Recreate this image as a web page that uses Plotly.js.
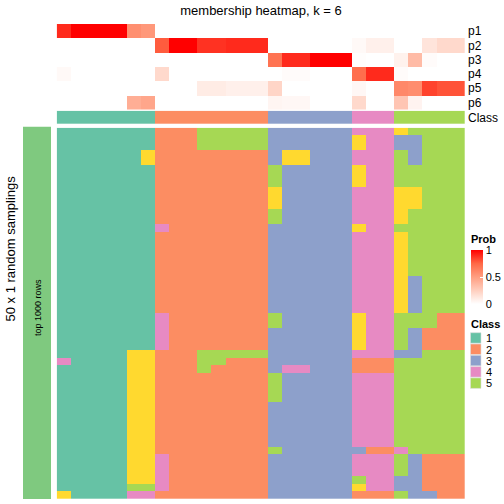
<!DOCTYPE html>
<html><head><meta charset="utf-8">
<script src="https://cdn.plot.ly/plotly-3.0.1.min.js"></script>
<style>html,body{margin:0;padding:0;background:#fff;}</style>
</head><body><div id="chart" style="width:504px;height:504px;"></div>
<script>
// ---- data ----
const probRows = ['p1','p2','p3','p4','p5','p6'];
const columnIdx = Array.from({length:29}, (_, i) => i);
const p1 = [0.9,1,1,1,1,0.57,0.53, 0,0,0,0,0,0,0,0, 0,0,0,0,0,0, 0,0,0, 0,0,0,0,0];
const p2 = [0,0,0,0,0,0,0, 0.78,1,1,0.88,0.88,0.9,0.9,0.9, 0,0,0,0,0,0, 0.03,0.08,0.08, 0,0,0.14,0.2,0.2];
const p3 = [0,0,0,0,0,0,0, 0,0,0,0,0,0,0,0, 0.7,0.9,0.9,1,1,1, 0.01,0,0, 0.07,0.35,0.02,0,0];
const p4 = [0.03,0,0,0,0,0,0, 0.2,0,0,0,0,0,0,0, 0,0.02,0.02,0,0,0, 0.72,0.9,0.9, 0.02,0,0,0,0];
const p5 = [0,0,0,0,0,0,0, 0,0,0,0.1,0.1,0.08,0.08,0.08, 0.22,0,0,0,0,0, 0.04,0,0, 0.6,0.58,0.84,0.8,0.8];
const p6 = [0,0,0,0,0,0.42,0.46, 0,0,0,0,0,0,0,0, 0.05,0.04,0.04,0,0,0, 0.2,0,0, 0.3,0.06,0,0,0];
const classRow = [1,1,1,1,1,1,1, 2,2,2,2,2,2,2,2, 3,3,3,3,3,3, 4,4,4, 5,5,5,5,5];
const classLabels = ['1','2','3','4','5'];
const classColors = ['#66C2A5','#FC8D62','#8DA0CB','#E78AC3','#A6D854','#FFD92F'];
// 50 random samplings, one string per sampling, one digit (class) per column
const samplings = [
 "1111111"+"22255555"+"333333"+"444"+"65555",
 "1111111"+"22255555"+"333333"+"644"+"33555",
 "1111111"+"22255555"+"333333"+"644"+"33555",
 "1111116"+"22222222"+"366333"+"444"+"53555",
 "1111116"+"22222222"+"366333"+"444"+"53555",
 "1111111"+"22222222"+"533333"+"644"+"55555",
 "1111111"+"22222222"+"533333"+"644"+"55555",
 "1111111"+"22222222"+"533333"+"644"+"55555",
 "1111111"+"22222222"+"633333"+"444"+"66555",
 "1111111"+"22222222"+"633333"+"444"+"66555",
 "1111111"+"22222222"+"633333"+"444"+"66555",
 "1111111"+"22222222"+"533333"+"444"+"65555",
 "1111111"+"22222222"+"533333"+"444"+"65555",
 "1111111"+"42222222"+"333333"+"644"+"55555",
 "1111111"+"22222222"+"333333"+"444"+"65555",
 "1111111"+"22222222"+"333333"+"444"+"65555",
 "1111111"+"22222222"+"333333"+"444"+"65555",
 "1111111"+"22222222"+"333333"+"444"+"65555",
 "1111111"+"22222222"+"333333"+"444"+"65555",
 "1111111"+"22222222"+"333333"+"444"+"65555",
 "1111111"+"22222222"+"333333"+"444"+"63555",
 "1111111"+"22222222"+"333333"+"444"+"63555",
 "1111111"+"22222222"+"333333"+"444"+"63555",
 "1111111"+"22222222"+"333333"+"444"+"63555",
 "1111111"+"22222222"+"333333"+"444"+"63555",
 "1111111"+"42222222"+"533333"+"644"+"55522",
 "1111111"+"42222222"+"533333"+"644"+"55522",
 "1111111"+"42222222"+"333333"+"644"+"53222",
 "1111111"+"42222222"+"333333"+"644"+"53222",
 "1111111"+"42222222"+"333333"+"644"+"53222",
 "1111166"+"22255555"+"333333"+"444"+"33555",
 "4111166"+"22255222"+"333333"+"222"+"55555",
 "1111166"+"22252222"+"344333"+"222"+"55555",
 "1111166"+"22222222"+"533333"+"444"+"55555",
 "1111166"+"22222222"+"533333"+"444"+"55555",
 "1111166"+"22222222"+"533333"+"444"+"55555",
 "1111166"+"22222222"+"533333"+"444"+"55555",
 "1111166"+"22222222"+"333333"+"444"+"55555",
 "1111166"+"22222222"+"333333"+"444"+"55555",
 "1111166"+"22222222"+"333333"+"444"+"55555",
 "1111166"+"22222222"+"333333"+"444"+"55555",
 "1111166"+"22222222"+"333333"+"444"+"55555",
 "1111166"+"22222222"+"333333"+"444"+"55555",
 "1111166"+"22222222"+"533333"+"322"+"45555",
 "1111166"+"42222222"+"333333"+"444"+"53222",
 "1111166"+"42222222"+"333333"+"444"+"53222",
 "1111166"+"42222222"+"333333"+"444"+"53222",
 "1111166"+"42222222"+"333333"+"544"+"33222",
 "1111155"+"42222222"+"333333"+"644"+"33222",
 "6111144"+"22222222"+"333333"+"222"+"53322"
];

// ---- build ----
const W = 504, H = 504;
const px = v => v / W, py = v => 1 - v / H;
const FONT = 'Liberation Sans, Arial, sans-serif';

const probScale = [[0,'#FFFFFF'],[0.25,'rgb(255,207,191)'],[0.5,'rgb(255,158,129)'],[0.75,'rgb(255,104,70)'],[1,'#FF0000']];
const cs = [];
classColors.forEach((c, i) => {
  const a = Math.max(0, (i - 0.5) / 5), b = Math.min(1, (i + 0.5) / 5);
  cs.push([a, c]); cs.push([b, c]);
});

const zSamp = samplings.map(s => s.split('').map(Number));

const traces = [
  {type:'heatmap', x: columnIdx, y: probRows, z:[p1,p2,p3,p4,p5,p6], xaxis:'x', yaxis:'y',
   zmin:0, zmax:1, colorscale: probScale, hoverinfo:'skip',
   colorbar:{x:px(470.5), xanchor:'left', y:py(277), yanchor:'middle', len:54, lenmode:'pixels',
     thickness:12, outlinewidth:0, xpad:0, ypad:0, tickvals:[0,0.5,1], ticktext:['0','0.5','1'],
     ticks:'inside', ticklen:3, tickcolor:'white', tickfont:{family:FONT, size:11, color:'#000'}, title:{text:''}}},
  {type:'heatmap', x: columnIdx, y:['Class'], z:[classRow], xaxis:'x', yaxis:'y2',
   zmin:1, zmax:6, colorscale: cs, showscale:false, hoverinfo:'skip'},
  {type:'heatmap', x: columnIdx, y: zSamp.map((_, i) => i), z: zSamp, xaxis:'x', yaxis:'y3',
   zmin:1, zmax:6, colorscale: cs, showscale:false, hoverinfo:'skip'}
];

const shapes = [
  {type:'rect', xref:'paper', yref:'paper', x0:px(23), x1:px(51), y0:py(499), y1:py(126.7),
   fillcolor:'#7FC97F', line:{width:0}}
];
const annotations = [
  {text:'50 x 1 random samplings', xref:'paper', yref:'paper', x:px(10), y:py(248.5), textangle:-90,
   showarrow:false, font:{family:FONT, size:13, color:'#000'}, xanchor:'center', yanchor:'middle'},
  {text:'top 1000 rows', xref:'paper', yref:'paper', x:px(38), y:py(308), textangle:-90,
   showarrow:false, font:{family:FONT, size:9, color:'#000'}, xanchor:'center', yanchor:'middle'},
  {text:'<b>Prob</b>', xref:'paper', yref:'paper', x:px(469), y:py(238.5), showarrow:false,
   font:{family:FONT, size:11, color:'#000'}, xanchor:'left', yanchor:'middle'},
  {text:'<b>Class</b>', xref:'paper', yref:'paper', x:px(469), y:py(324), showarrow:false,
   font:{family:FONT, size:11, color:'#000'}, xanchor:'left', yanchor:'middle'}
];
classLabels.forEach((lab, i) => {
  const top = 332.7 + i * 11.3;
  shapes.push({type:'rect', xref:'paper', yref:'paper', x0:px(470.5), x1:px(481), y0:py(top + 10.5), y1:py(top),
    fillcolor: classColors[i], line:{width:0.6, color:'#dddddd'}});
  annotations.push({text: lab, xref:'paper', yref:'paper', x:px(483.5), y:py(top + 5.5), showarrow:false,
    font:{family:FONT, size:11, color:'#000'}, xanchor:'left', yanchor:'middle'});
});

const axisY = (dom, extra) => Object.assign({domain: dom, anchor:'x', side:'right', showgrid:false, zeroline:false,
  showline:false, ticks:'', ticklabelstandoff:2, tickfont:{family:FONT, size:12, color:'#000'}, fixedrange:true}, extra);

const layout = {
  width: W, height: H, margin:{l:0, r:0, t:0, b:0, pad:0},
  paper_bgcolor:'#fff', plot_bgcolor:'#fff', showlegend:false,
  font:{family:FONT, color:'#000'},
  title:{text:'membership heatmap, k = 6', x:px(261), xanchor:'center', y:py(10), yanchor:'middle',
    font:{family:FONT, size:13, color:'#000'}},
  xaxis:{domain:[px(56.7), px(465)], range:[-0.5, 28.5], visible:false, fixedrange:true},
  yaxis: axisY([py(109.5), py(24)], {type:'category', categoryorder:'array', categoryarray: probRows, autorange:'reversed'}),
  yaxis2: axisY([py(124), py(110.7)], {type:'category'}),
  yaxis3: axisY([py(499), py(127.7)], {range:[samplings.length - 0.5, -0.5], visible:false}),
  shapes, annotations
};

Plotly.newPlot('chart', traces, layout, {staticPlot:true, displayModeBar:false});
</script></body></html>
